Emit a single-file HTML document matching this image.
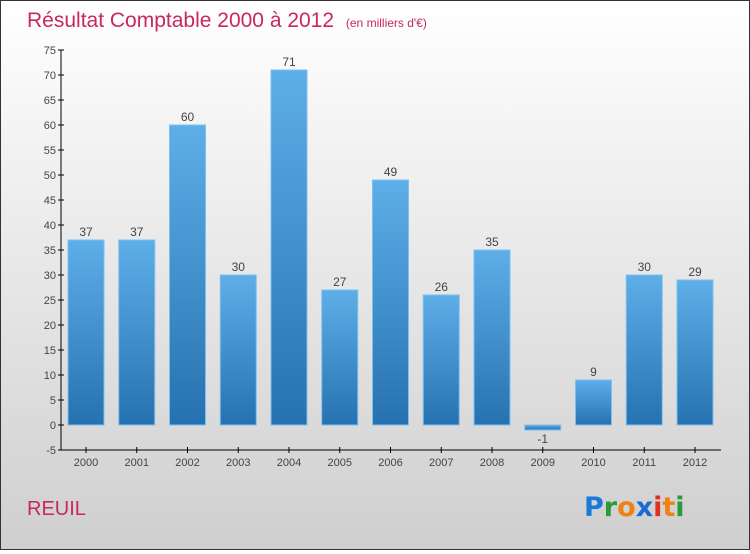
<!DOCTYPE html>
<html><head><meta charset="utf-8"><style>
body{margin:0}
#c{width:748px;height:548px;border:1px solid #333;background:linear-gradient(#fff,#cfcfcf);position:relative;font-family:"Liberation Sans",sans-serif}
</style></head><body>
<div id="c">
<svg width="748" height="548" id="s">
<defs><linearGradient id="g" x1="0" y1="0" x2="0" y2="1"><stop offset="0" stop-color="#5eaee8"/><stop offset="1" stop-color="#2672b0"/></linearGradient></defs>
<text x="26" y="26" font-size="21" fill="#c8285a">Résultat Comptable 2000 à 2012 <tspan font-size="12" dx="6">(en milliers d'€)</tspan></text>
<text x="26" y="514" font-size="20" fill="#c8285a">REUIL</text>
<g font-size="27" font-family="'DejaVu Sans',sans-serif" font-weight="bold">
<text x="583" y="515" fill="#1a7ad8">P<tspan fill="#2a9a3a">r</tspan><tspan fill="#f08010">o</tspan><tspan fill="#1a6ad0">x</tspan><tspan fill="#e03020">i</tspan><tspan fill="#f08010">t</tspan><tspan fill="#2a9a3a">i</tspan></text></g>
<g id="plot"></g>
</svg></div>
<script>
const years=["2000","2001","2002","2003","2004","2005","2006","2007","2008","2009","2010","2011","2012"];
const values=[37,37,60,30,71,27,49,26,35,-1,9,30,29];
const yTicks=[-5,0,5,10,15,20,25,30,35,40,45,50,55,60,65,70,75];
const NS="http://www.w3.org/2000/svg";
const p=document.getElementById("plot");
const y=v=>424-v*5;
const x=i=>85+i*50.75;
function mk(t,a){const e=document.createElementNS(NS,t);for(const k in a)e.setAttribute(k,a[k]);p.appendChild(e);return e;}
let ax=mk("line",{x1:60,y1:y(75),x2:60,y2:y(-5),stroke:"#000"});


let bx=mk("line",{x1:60,y1:y(-5),x2:720,y2:y(-5),stroke:"#000"});


yTicks.forEach(t=>{
 let l=mk("line",{x1:57,x2:63,y1:y(t),y2:y(t),stroke:"#000"});
 
 
 let tx=mk("text",{x:55,y:y(t)+4,"text-anchor":"end","font-size":11,fill:"#444"});
 tx.textContent=t;
 
 
});
years.forEach((yr,i)=>{
 const v=values[i];
 let r=mk("rect",{x:x(i)-18,width:36,y:Math.min(y(v),y(0)),height:Math.max(Math.abs(y(v)-y(0)),1),fill:"url(#g)",stroke:"#7cc0f0","stroke-width":1});
 
 
 let lv=mk("text",{x:x(i),y:v>=0?y(v)-4:y(0)+18,"text-anchor":"middle","font-size":12,fill:"#444"});
 lv.textContent=v;
 
 
 let tk=mk("line",{x1:x(i),x2:x(i),y1:y(-5)-3,y2:y(-5)+3,stroke:"#000"});
 
 
 let xl=mk("text",{x:x(i),y:y(-5)+16,"text-anchor":"middle","font-size":11,fill:"#444"});
 xl.textContent=yr;
 
 
});
</script>
</body></html>
